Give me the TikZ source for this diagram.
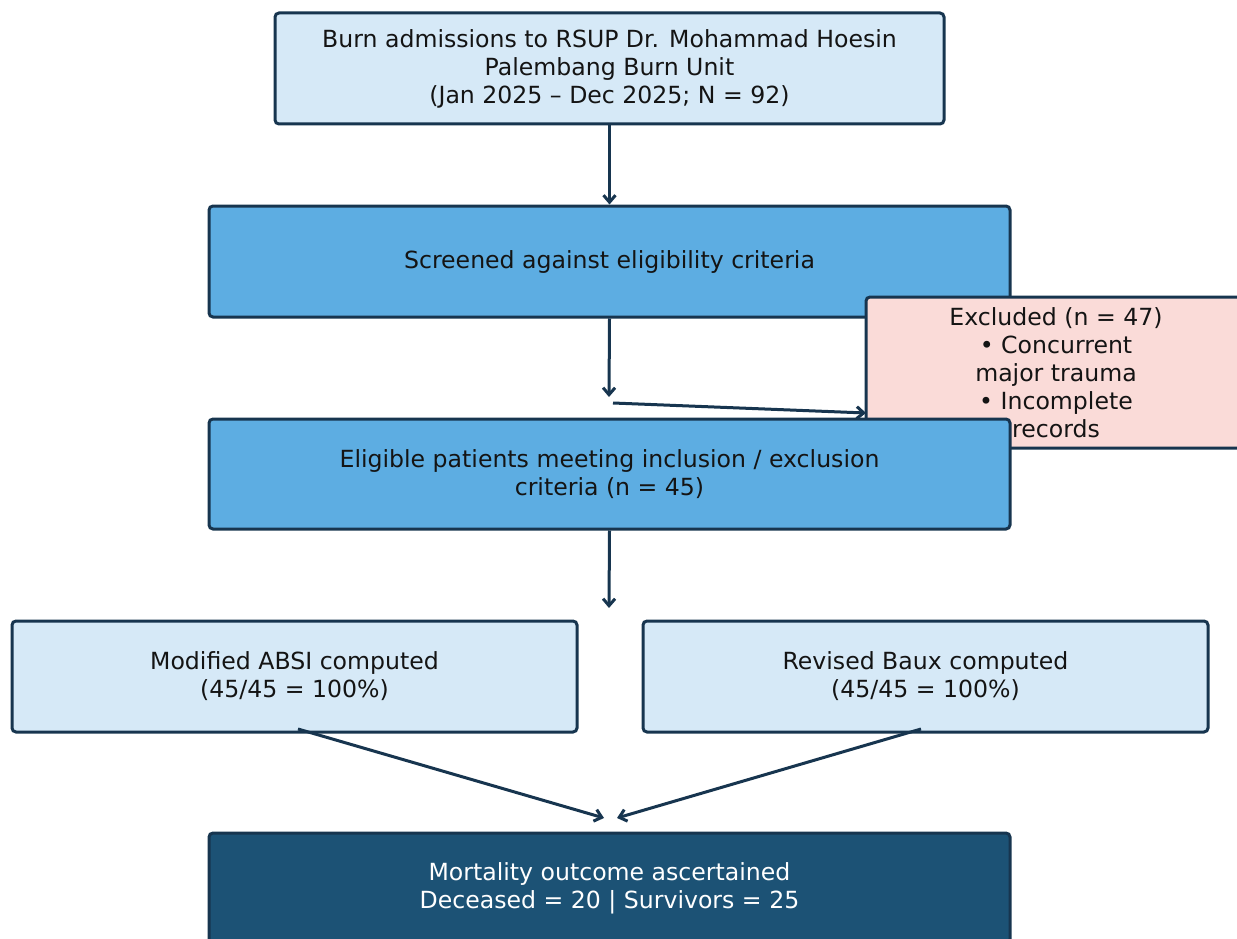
\documentclass[tikz,border=0pt]{standalone}
\usepackage{fontspec}
\setmainfont{DejaVu Sans}
\usetikzlibrary{arrows.meta}
\definecolor{edgecol}{HTML}{17354F}
\definecolor{lightbox}{HTML}{D6E9F7}
\definecolor{midbox}{HTML}{5DADE2}
\definecolor{pinkbox}{HTML}{FADBD8}
\definecolor{darkbox}{HTML}{1C5275}
\definecolor{txtcol}{HTML}{141414}
\tikzset{
  x=1pt, y=-1pt,
  box/.style={draw=edgecol, line width=3pt, rounded corners=4pt, align=center,
    text=txtcol, font=\fontsize{23.6}{28}\selectfont, inner sep=0pt},
  conn/.style={draw=edgecol, line width=3pt, -{Straight Barb[length=7pt,width=12pt,line width=3pt]}}
}
\begin{document}
\begin{tikzpicture}
\useasboundingbox (0,0) rectangle (1237,939);
\node[box, fill=lightbox, minimum width=669pt, minimum height=111pt] (top) at (609.5,68.5)
  {Burn admissions to RSUP Dr. Mohammad Hoesin\\Palembang Burn Unit\\(Jan 2025 -- Dec 2025; N = 92)};
\node[box, fill=midbox, minimum width=801pt, minimum height=111pt] (scr) at (609.5,261.5)
  {Screened against eligibility criteria};
\node[box, fill=pinkbox, minimum width=380pt, minimum height=151pt] (ex) at (1056,372.5)
  {Excluded (n = 47)\\• Concurrent\\major trauma\\• Incomplete\\records};
\node[box, fill=midbox, minimum width=801pt, minimum height=110pt] (elig) at (609.5,474)
  {Eligible patients meeting inclusion / exclusion\\criteria (n = 45)};
\node[box, fill=lightbox, minimum width=565pt, minimum height=111pt] (absi) at (294.5,676.5)
  {Modified ABSI computed\\(45/45 = 100\%)};
\node[box, fill=lightbox, minimum width=565pt, minimum height=111pt] (baux) at (925.5,676.5)
  {Revised Baux computed\\(45/45 = 100\%)};
\node[box, fill=darkbox, text=white, minimum width=801pt, minimum height=110pt] (mort) at (609.5,888)
  {Mortality outcome ascertained\\Deceased = 20 | Survivors = 25};
\coordinate (a2end) at (609,397);
\coordinate (exstart) at (613,403);
\coordinate (exend) at (866,413);
\coordinate (a3end) at (609,608);
\coordinate (absistart) at (298,729);
\coordinate (bauxstart) at (921,729);
\coordinate (mleft) at (604,818);
\coordinate (mright) at (617,818);
\draw[conn] (top.south) -- (scr.north);
\draw[conn] (scr.south) -- (a2end);
\draw[conn] (exstart) -- (exend);
\draw[conn] (elig.south) -- (a3end);
\draw[conn] (absistart) -- (mleft);
\draw[conn] (bauxstart) -- (mright);
\end{tikzpicture}
\end{document}
